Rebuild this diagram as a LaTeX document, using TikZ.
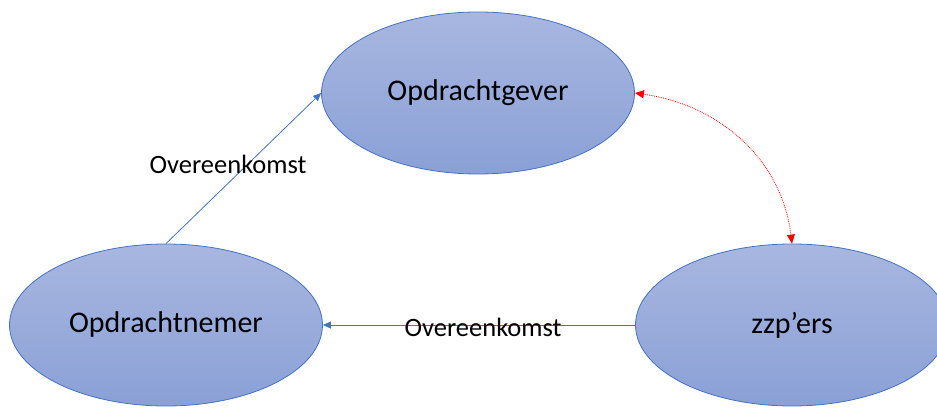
\documentclass[tikz,border=0pt]{standalone}
\usepackage{fontspec}
\setmainfont{Carlito}
\usepackage{tikz}
\usetikzlibrary{shapes.geometric, arrows.meta, positioning}
\definecolor{officeblue}{HTML}{4472C4}
\definecolor{ellipsetop}{HTML}{A8B7E0}
\definecolor{ellipsebottom}{HTML}{8AA0D6}
\tikzstyle{party} = [ellipse, minimum width=313pt, minimum height=162pt, inner sep=0pt, draw=officeblue, line width=0.8pt, top color=ellipsetop, bottom color=ellipsebottom, font=\fontsize{30}{36}\selectfont]
\tikzstyle{arrow} = [officeblue, line width=0.8pt, -{Triangle[length=8pt,width=7pt]}]
\tikzstyle{link} = [red, line width=0.8pt, densely dotted, {Triangle[length=9pt,width=8pt]}-{Triangle[length=9pt,width=8pt]}]
\tikzstyle{deal} = [font=\fontsize{26.5}{32}\selectfont]

\begin{document}
\begin{tikzpicture}[x=1pt,y=1pt]
    \useasboundingbox (0,0) rectangle (937,407);
    \node[party] (ell-top) at (478,314) {Opdrachtgever};
    \node[party] (ell-left) at (166,82) {Opdrachtnemer};
    \node[party] (ell-right) at (792,82) {zzp’ers};

    \draw[arrow] (ell-left.north) -- (ell-top.west);
    \draw[arrow] (ell-right.west) -- (ell-left.east);
    \draw[link] (ell-top.east) to[out=-8, in=97] (ell-right.north);

    \node[deal] (deal-1) at (228,243) {Overeenkomst};
    \node[deal] (deal-2) at (483,80) {Overeenkomst};
\end{tikzpicture}
\end{document}
